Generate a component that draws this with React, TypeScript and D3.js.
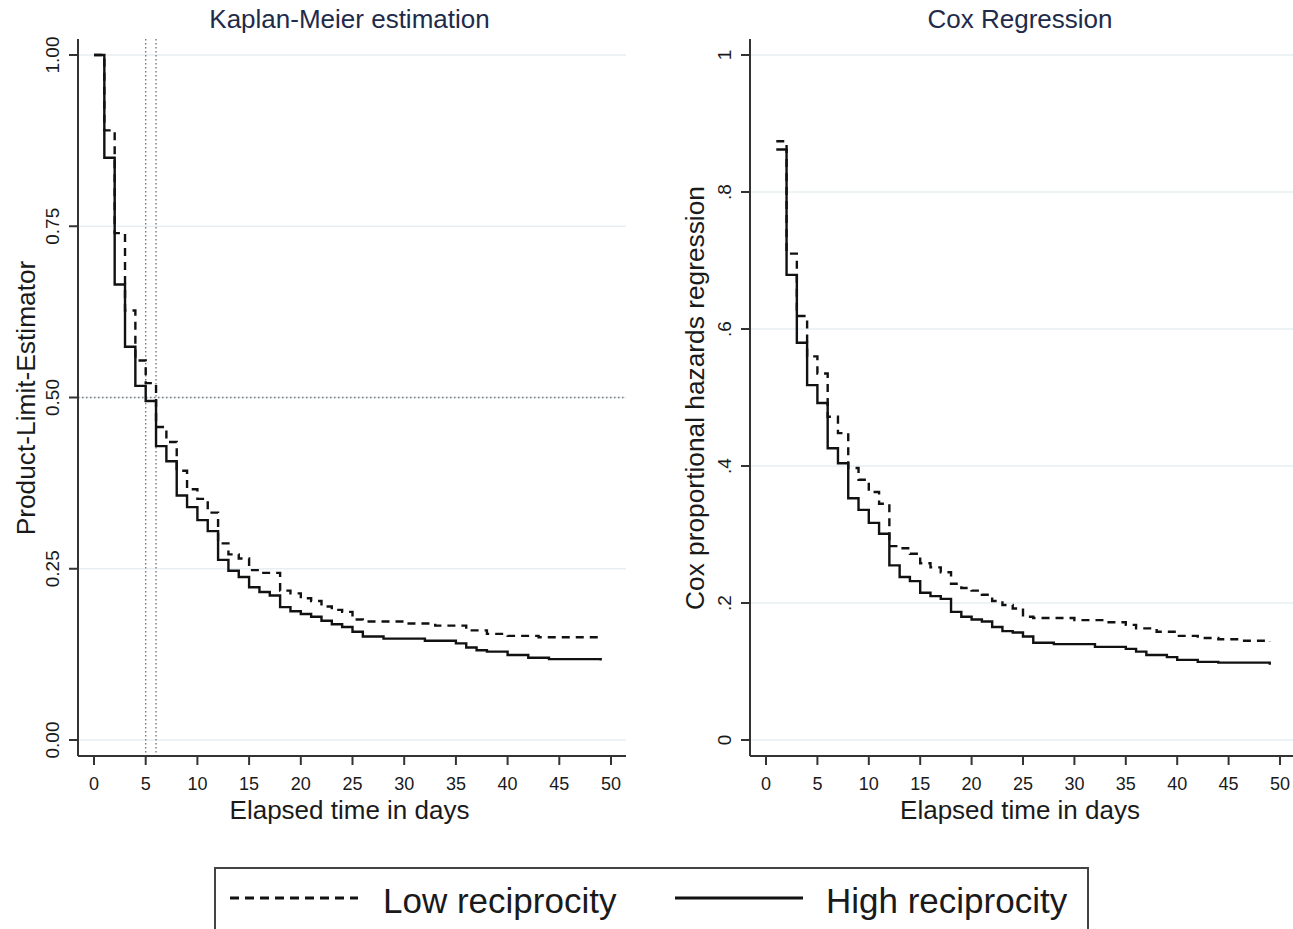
import React from "react";
import * as d3 from "d3";

// Kaplan-Meier, low reciprocity (dashed)
const kmLowTime = [0, 1, 2, 3, 4, 5, 6, 7, 8, 9, 10, 11, 12, 13, 14, 15, 16, 18, 19, 20, 21, 22, 23, 24, 25, 26, 30, 33, 36, 38, 40, 43, 49];
const kmLowSurv = [1, 0.89, 0.74, 0.627, 0.554, 0.521, 0.457, 0.435, 0.393, 0.366, 0.352, 0.332, 0.287, 0.271, 0.265, 0.248, 0.244, 0.218, 0.214, 0.207, 0.203, 0.195, 0.19, 0.187, 0.176, 0.173, 0.17, 0.167, 0.16, 0.155, 0.152, 0.15, 0.15];

// Kaplan-Meier, high reciprocity (solid)
const kmHighTime = [0, 1, 2, 3, 4, 5, 6, 7, 8, 9, 10, 11, 12, 13, 14, 15, 16, 17, 18, 19, 20, 21, 22, 23, 24, 25, 26, 28, 32, 35, 36, 37, 38, 40, 42, 44, 49];
const kmHighSurv = [1, 0.85, 0.665, 0.574, 0.517, 0.495, 0.429, 0.407, 0.357, 0.34, 0.321, 0.305, 0.263, 0.247, 0.238, 0.223, 0.216, 0.211, 0.194, 0.188, 0.184, 0.18, 0.174, 0.169, 0.165, 0.158, 0.151, 0.148, 0.145, 0.141, 0.135, 0.131, 0.129, 0.124, 0.12, 0.118, 0.116];

// Cox regression, low reciprocity (dashed)
const coxLowTime = [1, 2, 3, 4, 5, 6, 7, 8, 9, 10, 11, 12, 13, 14, 15, 16, 17, 18, 19, 20, 21, 22, 23, 24, 25, 26, 30, 33, 35, 36, 38, 40, 42, 44, 46, 49];
const coxLowSurv = [0.874, 0.71, 0.619, 0.56, 0.535, 0.472, 0.448, 0.397, 0.38, 0.362, 0.345, 0.283, 0.28, 0.272, 0.258, 0.252, 0.245, 0.228, 0.222, 0.218, 0.212, 0.203, 0.197, 0.192, 0.18, 0.178, 0.175, 0.172, 0.168, 0.163, 0.158, 0.152, 0.149, 0.147, 0.145, 0.143];

// Cox regression, high reciprocity (solid)
const coxHighTime = [1, 2, 3, 4, 5, 6, 7, 8, 9, 10, 11, 12, 13, 14, 15, 16, 17, 18, 19, 20, 21, 22, 23, 24, 25, 26, 28, 32, 35, 36, 37, 39, 40, 42, 44, 49];
const coxHighSurv = [0.862, 0.679, 0.58, 0.518, 0.492, 0.426, 0.404, 0.353, 0.336, 0.317, 0.301, 0.255, 0.238, 0.232, 0.215, 0.21, 0.206, 0.187, 0.18, 0.176, 0.173, 0.165, 0.159, 0.157, 0.151, 0.142, 0.14, 0.136, 0.133, 0.129, 0.124, 0.121, 0.117, 0.114, 0.113, 0.11];

const xTicks = [0, 5, 10, 15, 20, 25, 30, 35, 40, 45, 50];
const kmYTicks = [0, 0.25, 0.5, 0.75, 1];
const kmYLabels = ["0.00", "0.25", "0.50", "0.75", "1.00"];
const coxYTicks = [0, 0.2, 0.4, 0.6, 0.8, 1];
const coxYLabels = ["0", ".2", ".4", ".6", ".8", "1"];
const medianLines = [5, 6];

const FONT = "'Liberation Sans', Arial, sans-serif";
const TEXT = "#1a1a1a";
const GRID = "#e7eff2";

type Series = { time: number[]; surv: number[]; dashed: boolean };

function Panel(props: {
  left: number;
  right: number;
  x0: number;
  x1: number;
  title: string;
  yTitle: string;
  yTitleX: number;
  yTicks: number[];
  yLabels: string[];
  series: Series[];
  refLines?: boolean;
}) {
  const { left, right, x0, x1, title, yTitle, yTitleX, yTicks, yLabels, series, refLines } = props;
  const top = 39;
  const bottom = 756;
  const x = d3.scaleLinear().domain([0, 50]).range([x0, x1]);
  const y = d3.scaleLinear().domain([0, 1]).range([740, 55]);
  const line = d3
    .line<[number, number]>()
    .x((d) => x(d[0]))
    .y((d) => y(d[1]))
    .curve(d3.curveStepAfter);
  const cx = (x0 + x1) / 2 - 3;

  return (
    <g>
      <text x={cx} y={28} textAnchor="middle" fontSize={26} fill="#1f2b4a" fontFamily={FONT}>
        {title}
      </text>
      {yTicks.map((t) => (
        <line key={"g" + t} x1={left + 1} x2={right} y1={y(t)} y2={y(t)} stroke={GRID} strokeWidth={1.5} />
      ))}
      {refLines && (
        <g stroke="#7a7a7a" strokeWidth={1.4} strokeDasharray="1.5,2.5">
          {medianLines.map((m) => (
            <line key={m} x1={x(m)} x2={x(m)} y1={top} y2={bottom} />
          ))}
          <line x1={left} x2={right} y1={y(0.5)} y2={y(0.5)} />
        </g>
      )}
      {series.map((s, i) => (
        <path
          key={i}
          d={line(s.time.map((t, j) => [t, s.surv[j]] as [number, number])) || ""}
          fill="none"
          stroke="#111"
          strokeWidth={2.4}
          strokeDasharray={s.dashed ? "8,6" : undefined}
        />
      ))}
      <line x1={left} x2={left} y1={top} y2={bottom} stroke="#333" strokeWidth={2} />
      <line x1={left} x2={right} y1={bottom} y2={bottom} stroke="#333" strokeWidth={2} />
      {yTicks.map((t, i) => (
        <g key={"y" + t}>
          <line x1={left - 9} x2={left} y1={y(t)} y2={y(t)} stroke="#333" strokeWidth={2} />
          <text
            transform={`translate(${left - 19},${y(t)}) rotate(-90)`}
            textAnchor="middle"
            fontSize={19}
            fill={TEXT}
            fontFamily={FONT}
          >
            {yLabels[i]}
          </text>
        </g>
      ))}
      {xTicks.map((t) => (
        <g key={"x" + t}>
          <line x1={x(t)} x2={x(t)} y1={bottom} y2={bottom + 9} stroke="#333" strokeWidth={2} />
          <text x={x(t)} y={790} textAnchor="middle" fontSize={18} fill={TEXT} fontFamily={FONT}>
            {t}
          </text>
        </g>
      ))}
      <text x={cx} y={819} textAnchor="middle" fontSize={26} fill={TEXT} fontFamily={FONT}>
        Elapsed time in days
      </text>
      <text
        transform={`translate(${yTitleX},398) rotate(-90)`}
        textAnchor="middle"
        fontSize={26.3}
        fill={TEXT}
        fontFamily={FONT}
      >
        {yTitle}
      </text>
    </g>
  );
}

export default function App() {
  return (
    <svg
      width={1293}
      height={929}
      style={{ position: "absolute", left: 0, top: 0, background: "#fff" }}
    >
      <rect width={1293} height={929} fill="#fff" />
      <Panel
        left={78}
        right={626}
        x0={94}
        x1={611}
        title="Kaplan-Meier estimation"
        yTitle="Product-Limit-Estimator"
        yTitleX={35}
        yTicks={kmYTicks}
        yLabels={kmYLabels}
        refLines
        series={[
          { time: kmLowTime, surv: kmLowSurv, dashed: true },
          { time: kmHighTime, surv: kmHighSurv, dashed: false },
        ]}
      />
      <Panel
        left={750}
        right={1293}
        x0={766}
        x1={1280}
        title="Cox Regression"
        yTitle="Cox proportional hazards regression"
        yTitleX={704}
        yTicks={coxYTicks}
        yLabels={coxYLabels}
        series={[
          { time: coxLowTime, surv: coxLowSurv, dashed: true },
          { time: coxHighTime, surv: coxHighSurv, dashed: false },
        ]}
      />
      <g fontFamily={FONT} fontSize={35} fill={TEXT}>
        <rect x={215} y={868} width={873} height={90} fill="none" stroke="#444" strokeWidth={2} />
        <line x1={230} x2={358} y1={898} y2={898} stroke="#111" strokeWidth={3} strokeDasharray="9,6" />
        <text x={383} y={913}>Low reciprocity</text>
        <line x1={675} x2={803} y1={898} y2={898} stroke="#111" strokeWidth={3} />
        <text x={826} y={913}>High reciprocity</text>
      </g>
    </svg>
  );
}
